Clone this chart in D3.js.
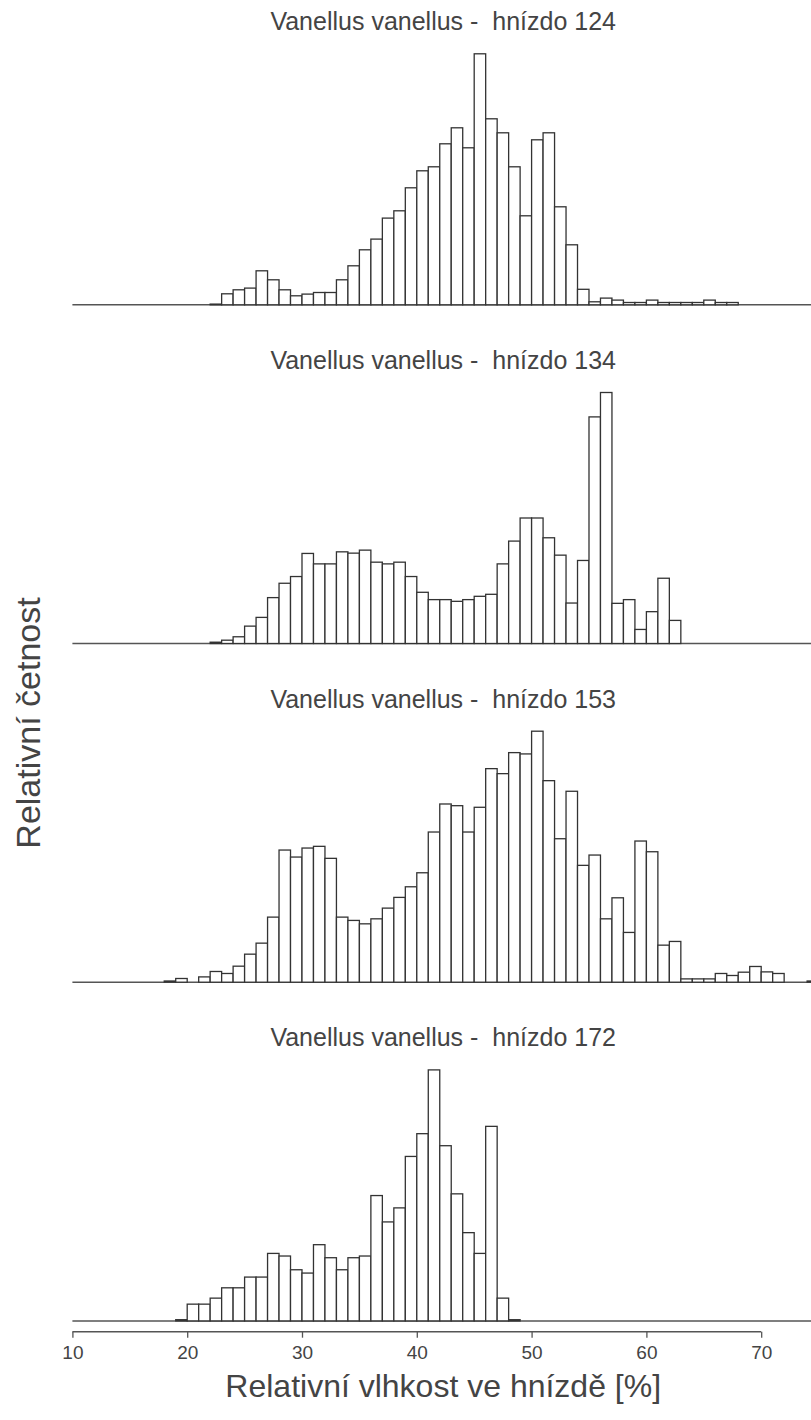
<!DOCTYPE html>
<html>
<head>
<meta charset="utf-8">
<script src="https://cdn.jsdelivr.net/npm/d3@7"></script>
<style>
  html, body { margin: 0; padding: 0; background: #fff; }
  svg { display: block; font-family: "Liberation Sans", Arial, sans-serif; }
</style>
</head>
<body>
<div id="chart"></div>
<script>
// ---- data : relative frequency per 1 % bin ----
const nests = ["124", "134", "153", "172"];
const firstBin = [22, 22, 18, 19];

const freq124 = [0.7, 11, 15, 16.7, 34, 25, 15, 9, 10.7, 12.3, 12.3, 25, 39, 55, 65.7, 86.7,
  94, 117, 134, 138, 161, 177, 157, 251, 186, 172, 138, 89, 165, 172, 98, 60, 15.5,
  3, 6.7, 4.7, 2.3, 2.3, 4.7, 2.3, 2.3, 2.3, 2.3, 4.7, 2.3, 2.3];
const freq134 = [1.3, 3.3, 6.7, 17.3, 26, 45.7, 60, 66.7, 89.7, 79.3, 79.3, 91.3, 90, 93,
  81, 79.3, 81, 66.7, 51, 43.7, 43.7, 42, 43.7, 47, 49, 79.3, 102, 125, 125, 105.3, 88,
  40.3, 82.7, 225.7, 250, 40, 43.7, 14, 31.7, 65, 23];
const freq153 = [1.2, 3.7, 0, 5.3, 10.7, 8.7, 16, 28, 39, 65, 132, 125, 134, 135.7, 123.7,
  65, 61.7, 58.3, 63.3, 74, 84.7, 95.3, 109.3, 150, 178, 176.3, 150, 174.7, 213.3, 208.3,
  229.3, 228, 250.7, 201.3, 143.3, 190.7, 116.7, 127, 63.3, 84.3, 49.7, 141, 130.3, 37,
  40.7, 3.3, 3.3, 3.3, 8.7, 6.7, 10, 15.7, 10.3, 8.7, 0, 0, 1.2];
const freq172 = [1.2, 16.7, 16.7, 22.7, 33, 33, 43.7, 43.7, 67.3, 64.7, 51, 47.7, 76, 63,
  51, 63, 64.7, 125, 98.7, 112.7, 164, 186.7, 250.3, 174.7, 126.7, 88, 67.3, 194, 22.7, 1.2];
const allFreq = [freq124, freq134, freq153, freq172];

const xTicks = [10, 20, 30, 40, 50, 60, 70];
const xTitle = "Relativní vlhkost ve hnízdě [%]";
const yTitle = "Relativní četnost";

// ---- layout ----
const width = 811, height = 1420;
const ink = "#333", textCol = "#444";

const svg = d3.select("#chart").append("svg")
  .attr("width", width)
  .attr("height", height);

const x = d3.scaleLinear().domain([10, 74.6]).range([72.4, 814]);
const panelStep = 338.7, firstBase = 304.8, barMax = 251;

nests.forEach(function(nest, i) {
  const base = firstBase + i * panelStep;
  const vals = allFreq[i];
  const bins = vals.map(function(v, k) { return {x0: firstBin[i] + k, v: v}; });
  const y = d3.scaleLinear().domain([0, d3.max(vals)]).range([base, base - barMax]);

  const g = svg.append("g");

  g.append("text")
    .attr("x", (x.range()[0] + x.range()[1]) / 2)
    .attr("y", base - 274.5)
    .attr("text-anchor", "middle")
    .attr("fill", textCol)
    .style("font-size", "25px")
    .style("white-space", "pre")
    .text("Vanellus vanellus -  hnízdo " + nest);

  g.append("line")
    .attr("x1", x(10)).attr("x2", width)
    .attr("y1", base).attr("y2", base)
    .attr("stroke", "#555")
    .attr("stroke-width", 1.5);

  g.selectAll("rect")
    .data(bins.filter(function(d) { return d.v > 0; }))
    .enter()
    .append("rect")
    .attr("x", function(d) { return x(d.x0); })
    .attr("y", function(d) { return y(d.v); })
    .attr("width", function(d) { return x(d.x0 + 1) - x(d.x0); })
    .attr("height", function(d) { return base - y(d.v); })
    .attr("fill", "white")
    .attr("stroke", ink)
    .attr("stroke-width", 1.3);
});

// x axis under the last panel
const axisG = svg.append("g")
  .attr("transform", "translate(0,1331.7)")
  .call(d3.axisBottom(x).tickValues(xTicks).tickSize(6).tickPadding(8).tickSizeOuter(0));
axisG.select(".domain")
  .attr("d", "M" + x(10) + ",0H" + x(70))
  .attr("stroke", "#555")
  .attr("stroke-width", 1.5);
axisG.selectAll(".tick line").attr("stroke", "#555").attr("stroke-width", 1.3);
axisG.selectAll(".tick text")
  .attr("fill", textCol)
  .style("font-family", "'Liberation Sans', Arial, sans-serif")
  .style("font-size", "19px");

svg.append("text")
  .attr("x", (x.range()[0] + x.range()[1]) / 2)
  .attr("y", 1397)
  .attr("text-anchor", "middle")
  .attr("fill", textCol)
  .style("font-size", "32px")
  .text(xTitle);

svg.append("text")
  .attr("transform", "translate(40,723) rotate(-90)")
  .attr("text-anchor", "middle")
  .attr("fill", textCol)
  .style("font-size", "34px")
  .text(yTitle);
</script>
</body>
</html>
